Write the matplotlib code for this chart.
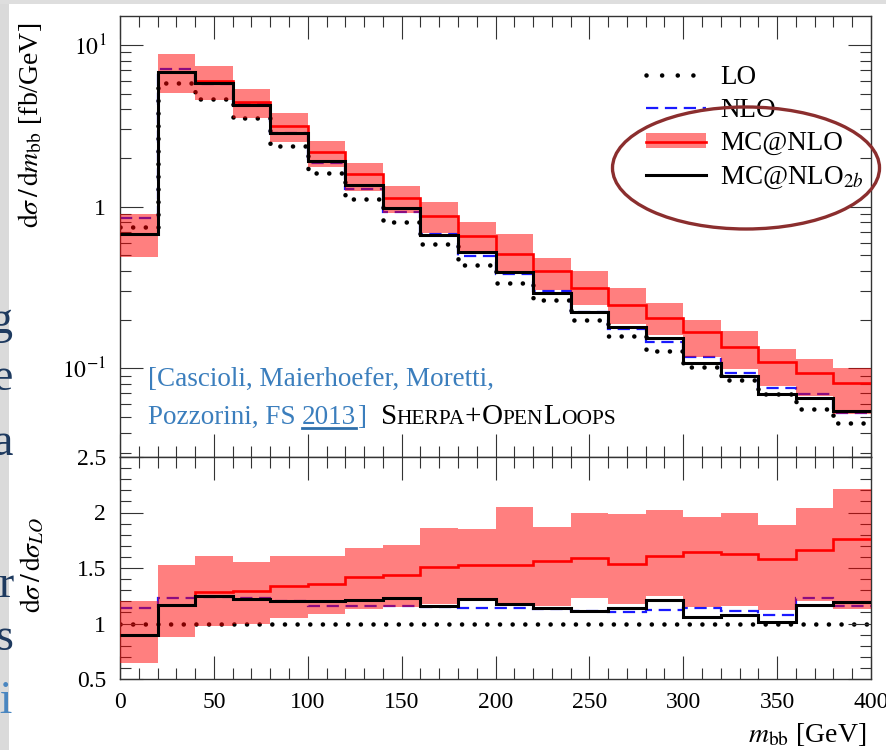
import numpy as np
import matplotlib
matplotlib.use("Agg")
import matplotlib.pyplot as plt
from matplotlib.ticker import MultipleLocator, FixedLocator, FuncFormatter, NullFormatter, LogLocator
from matplotlib.patches import Ellipse, Rectangle, Patch
from matplotlib.lines import Line2D

plt.rcParams['font.family'] = 'serif'
plt.rcParams['font.serif'] = ['Liberation Serif', 'DejaVu Serif']
plt.rcParams['mathtext.fontset'] = 'stix'

# bin edges in m_bb [GeV]
bin_edges = np.arange(0, 401, 20)

# main panel, dsigma/dm_bb [fb/GeV]
lo = [0.746, 5.85, 4.65, 3.55, 2.38, 1.61, 1.11, 0.80, 0.585, 0.433,
      0.335, 0.263, 0.200, 0.159, 0.128, 0.102, 0.0849, 0.0695, 0.056, 0.0459]
nlo = [0.849, 7.14, 5.77, 4.33, 2.86, 1.86, 1.28, 0.924, 0.673, 0.493,
       0.381, 0.300, 0.222, 0.176, 0.146, 0.118, 0.0938, 0.0757, 0.0695, 0.053]
mcnlo = [0.675, 6.84, 5.95, 4.46, 3.16, 2.18, 1.59, 1.13, 0.873, 0.656,
         0.507, 0.400, 0.316, 0.245, 0.206, 0.169, 0.136, 0.110, 0.0938, 0.0813]
mcnlo_up = [0.898, 8.85, 7.46, 5.37, 3.81, 2.55, 1.86, 1.34, 1.07, 0.80,
            0.675, 0.479, 0.398, 0.316, 0.255, 0.200, 0.170, 0.131, 0.114, 0.101]
mcnlo_dn = [0.486, 5.07, 4.59, 3.55, 2.52, 1.76, 1.25, 0.92, 0.69, 0.530,
            0.389, 0.305, 0.246, 0.188, 0.160, 0.117, 0.0985, 0.078, 0.067, 0.052]
mcnlo2b = [0.675, 6.84, 5.85, 4.27, 2.86, 1.92, 1.36, 0.979, 0.665, 0.522,
           0.392, 0.294, 0.224, 0.181, 0.155, 0.108, 0.0898, 0.0695, 0.0656, 0.0545]

# ratio panel, dsigma/dsigma_LO
r_lo = [1.0] * 20
r_nlo = [1.14, 1.23, 1.24, 1.23, 1.20, 1.16, 1.16, 1.16, 1.15, 1.14,
         1.14, 1.13, 1.11, 1.10, 1.12, 1.14, 1.11, 1.08, 1.23, 1.16]
r_mcnlo = [0.90, 1.17, 1.28, 1.29, 1.34, 1.36, 1.42, 1.44, 1.51, 1.53,
           1.53, 1.56, 1.59, 1.54, 1.61, 1.64, 1.63, 1.58, 1.66, 1.76]
r_mcnlo_up = [1.20, 1.53, 1.61, 1.55, 1.61, 1.61, 1.68, 1.71, 1.86, 1.85,
              2.05, 1.87, 2.00, 1.99, 2.02, 1.96, 2.00, 1.89, 2.04, 2.21]
r_mcnlo_dn = [0.645, 0.88, 0.98, 1.00, 1.05, 1.09, 1.13, 1.15, 1.18, 1.23,
              1.16, 1.16, 1.23, 1.18, 1.25, 1.15, 1.16, 1.12, 1.20, 1.13]
r_mcnlo2b = [0.90, 1.17, 1.25, 1.22, 1.20, 1.20, 1.21, 1.23, 1.16, 1.22,
             1.18, 1.14, 1.11, 1.14, 1.21, 1.06, 1.08, 1.01, 1.17, 1.19]

W, H = 886, 750
fig = plt.figure(figsize=(W / 100, H / 100), dpi=100)

def fx(x):
    return x / W

def fy(y):
    return 1 - y / H

ax = fig.add_axes([fx(120), fy(457), 751 / W, 441 / H])
axr = fig.add_axes([fx(120), fy(679), 751 / W, 222 / H])

lo_style = dict(color='black', lw=3.3, linestyle=(0, (0.01, 2.75)), zorder=1)
nlo_style = dict(color='#1a1aff', lw=1.6, linestyle=(0, (5.5, 3.0)), zorder=2)
band_style = dict(color='#ff0000', alpha=0.5, lw=0, zorder=3)
mc_style = dict(color='#ff0000', lw=1.9, zorder=4)
mc2b_style = dict(color='black', lw=2.2, zorder=5)

for a, vlo, vnlo, vmc, vup, vdn, v2b in [
        (ax, lo, nlo, mcnlo, mcnlo_up, mcnlo_dn, mcnlo2b),
        (axr, r_lo, r_nlo, r_mcnlo, r_mcnlo_up, r_mcnlo_dn, r_mcnlo2b)]:
    a.stairs(vlo, bin_edges, baseline=None, capstyle='round', **lo_style)
    a.stairs(vnlo, bin_edges, baseline=None, **nlo_style)
    a.stairs(vup, bin_edges, baseline=vdn, fill=True, **band_style)
    a.stairs(vmc, bin_edges, baseline=None, **mc_style)
    a.stairs(v2b, bin_edges, baseline=None, **mc2b_style)

ax.set_yscale('log')
ax.set_ylim(0.0283, 15.1)
axr.set_ylim(0.5, 2.5)
for a in (ax, axr):
    a.set_xlim(0, 400)
    a.xaxis.set_major_locator(MultipleLocator(50))
    a.xaxis.set_minor_locator(MultipleLocator(10))
    a.tick_params(which='both', direction='in', top=True, right=True,
                  color='#333333', width=0.8, labelsize=17, pad=10)
    a.tick_params(which='major', length=16.5)
    a.tick_params(which='minor', length=8)
    for s in a.spines.values():
        s.set_linewidth(1.0)
        s.set_color('#333333')

ax.yaxis.set_major_locator(FixedLocator([0.1, 1, 10]))
ax.yaxis.set_minor_locator(LogLocator(base=10, subs=np.arange(2, 10)))
ax.yaxis.set_minor_formatter(NullFormatter())
ylabels = {0.1: r'$10^{-1}$', 1: '1', 10: r'$10^{1}$'}
ax.yaxis.set_major_formatter(FuncFormatter(lambda v, p: ylabels.get(round(v, 3), '')))
ax.tick_params(axis='x', labelbottom=False)

axr.yaxis.set_major_locator(MultipleLocator(0.5))
axr.yaxis.set_minor_locator(MultipleLocator(0.1))
axr.yaxis.set_major_formatter(FuncFormatter(lambda v, p: ('%g' % v)))
axr.tick_params(axis='x', pad=9)

fig.text(fx(30), fy(125), r'$\mathrm{d}\sigma\,/\,\mathrm{d}m_{\mathrm{bb}}$ [fb/GeV]',
         rotation=90, ha='center', va='center', fontsize=20)
fig.text(fx(33), fy(565), r'$\mathrm{d}\sigma\,/\,\mathrm{d}\sigma_{LO}$',
         rotation=90, ha='center', va='center', fontsize=20)
fig.text(fx(866), fy(735), r'$m_{\mathrm{bb}}$ [GeV]', ha='right', va='center', fontsize=20)

# legend
handles = [Line2D([], [], color='black', lw=3.3, linestyle=(0, (0.01, 3.4)), dash_capstyle='round'),
           Line2D([], [], **nlo_style),
           (Patch(facecolor='#ff0000', alpha=0.5, lw=0), Line2D([], [], **mc_style)),
           Line2D([], [], **mc2b_style)]
labels = ['LO', 'NLO', 'MC@NLO', r'MC@NLO$_{2b}$']
ax.legend(handles, labels, loc='upper left', bbox_to_anchor=((646 - 120) / 751, 1 - (65 - 16) / 441),
          frameon=False, fontsize=19.5, handlelength=2.2, handleheight=0.5,
          handletextpad=0.55, labelspacing=0.3, borderpad=0, borderaxespad=0)

fig.add_artist(Ellipse((fx(746), fy(168)), 267 / W, 122 / H, transform=fig.transFigure,
                       fill=False, edgecolor='#8b2e2e', lw=2.4, zorder=10))

# citation
blue = '#3b7ebd'
renderer = fig.canvas.get_renderer()

def run_text(pieces, x0, ybase, color):
    x = x0
    for s, size in pieces:
        t = fig.text(fx(x), fy(ybase), s, fontsize=size, color=color, ha='left', va='baseline')
        bb = t.get_window_extent(renderer)
        x = bb.x1
    return x

fig.text(fx(148), fy(386), '[Cascioli, Maierhoefer, Moretti,', fontsize=19.5, color=blue,
         ha='left', va='baseline')
t1 = fig.text(fx(148), fy(424), 'Pozzorini, FS', fontsize=19.5, color=blue, ha='left', va='baseline')
bb1 = t1.get_window_extent(renderer)
t2 = fig.text(fx(bb1.x1 + 6), fy(424), '2013', fontsize=19.5, color=blue, ha='left', va='baseline')
bb2 = t2.get_window_extent(renderer)
fig.add_artist(Line2D([fx(bb2.x0), fx(bb2.x1)], [fy(428), fy(428)], color='#2f6faa', lw=2.0,
                      transform=fig.transFigure))
t3 = fig.text(fx(bb2.x1 + 1), fy(424), ']', fontsize=19.5, color=blue, ha='left', va='baseline')
bb3 = t3.get_window_extent(renderer)
run_text([('S', 21), ('HERPA', 15.5), ('+', 21), ('O', 21), ('PEN', 15.5), ('L', 21), ('OOPS', 15.5)],
         bb3.x1 + 15, 424, 'black')

# slide background remnants on the left
fig.add_artist(Rectangle((0, 0), fx(9), 1, transform=fig.transFigure, color='#dadada', lw=0, zorder=-5))
fig.add_artist(Rectangle((0, fy(4)), 1, 4 / H, transform=fig.transFigure, color='#dedede', lw=0, zorder=-5))
navy = '#1e3a5f'
for s, yb, c in [('g', 333, navy), ('e', 390, navy), ('a', 455, navy), ('r', 597, navy),
                 ('s', 650, navy), ('li', 713, '#4a86c0'), ('e', 772, navy)]:
    fig.text(fx(13), fy(yb), s, fontsize=33, color=c, ha='right', va='baseline')

fig.savefig('out.png', dpi=100)
